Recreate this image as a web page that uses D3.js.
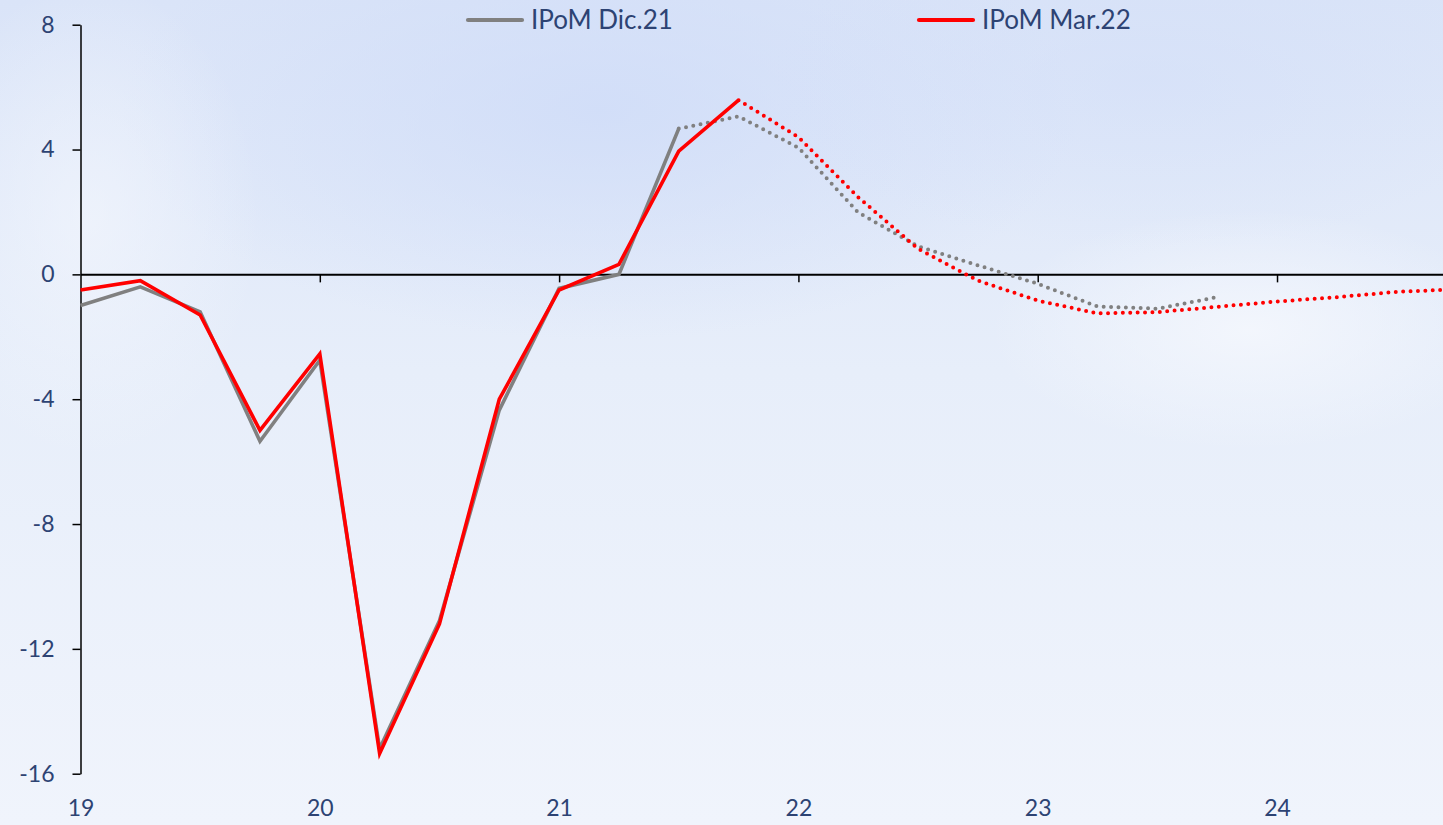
<!DOCTYPE html>
<html>
<head>
<meta charset="utf-8">
<script src="https://cdn.jsdelivr.net/npm/d3@7"></script>
<style>
  body { margin: 0; padding: 0; overflow: hidden; }
  svg { display: block; }
  text { font-family: Lato, "Open Sans", sans-serif; fill: #2d4373; }
</style>
</head>
<body>
<div id="chart"></div>
<script>
// quarters (year fraction), 2019Q1 .. 2024Q4
var quarters = [19, 19.25, 19.5, 19.75, 20, 20.25, 20.5, 20.75, 21, 21.25, 21.5, 21.75,
                22, 22.25, 22.5, 22.75, 23, 23.25, 23.5, 23.75, 24, 24.25, 24.5, 24.75]

// IPoM Dic.21 (gray), last observed point at 21.5
var dic21 = [-1.0, -0.4, -1.2, -5.35, -2.75, -15.2, -11.1, -4.35, -0.45, 0.0, 4.67, 5.06,
             4.06, 1.98, 0.9, 0.29, -0.3, -1.03, -1.1, -0.73, null, null, null, null]
var dic21LastObs = 21.5

// IPoM Mar.22 (red), last observed point at 21.75
var mar22 = [-0.5, -0.2, -1.3, -5.0, -2.55, -15.35, -11.2, -4.0, -0.5, 0.32, 3.95, 5.58,
             4.4, 2.47, 0.82, -0.2, -0.84, -1.25, -1.21, -1.04, -0.87, -0.73, -0.56, -0.48]
var mar22LastObs = 21.75

var yTicks = [-16, -12, -8, -4, 0, 4, 8]
var xTicks = [19, 20, 21, 22, 23, 24]
var seriesNames = ["IPoM Dic.21", "IPoM Mar.22"]
var seriesColors = ["#808080", "#ff0000"]

//---------------------------------------------------
// init parameters
//---------------------------------------------------
var width = 1443,
    height = 825
var lineWidth = 3.6

var svg = d3.select("#chart")
    .append("svg")
    .attr("width", width)
    .attr("height", height)

//---------------------------------------------------
// background (light sky)
//---------------------------------------------------
var defs = svg.append("defs")
var bg = defs.append("linearGradient").attr("id", "bg")
    .attr("x1", 0).attr("y1", 0).attr("x2", 0).attr("y2", 1)
bg.append("stop").attr("offset", "0%").attr("stop-color", "#dae4f8")
bg.append("stop").attr("offset", "45%").attr("stop-color", "#e7eefa")
bg.append("stop").attr("offset", "100%").attr("stop-color", "#f0f4fc")

var blob = defs.append("radialGradient").attr("id", "blob")
blob.append("stop").attr("offset", "0%").attr("stop-color", "#cfdcf8").attr("stop-opacity", 0.8)
blob.append("stop").attr("offset", "100%").attr("stop-color", "#cfdcf8").attr("stop-opacity", 0)

var cloud = defs.append("radialGradient").attr("id", "cloud")
cloud.append("stop").attr("offset", "0%").attr("stop-color", "#f4f7fd").attr("stop-opacity", 0.9)
cloud.append("stop").attr("offset", "100%").attr("stop-color", "#f4f7fd").attr("stop-opacity", 0)

svg.append("rect").attr("width", width).attr("height", height).attr("fill", "url(#bg)")
svg.append("ellipse").attr("cx", 600).attr("cy", 110).attr("rx", 480).attr("ry", 230)
    .attr("fill", "url(#blob)")
svg.append("ellipse").attr("cx", 1150).attr("cy", 80).attr("rx", 380).attr("ry", 170)
    .attr("fill", "url(#blob)").attr("opacity", 0.5)
svg.append("ellipse").attr("cx", 1250).attr("cy", 330).attr("rx", 260).attr("ry", 120)
    .attr("fill", "url(#cloud)")
svg.append("ellipse").attr("cx", 90).attr("cy", 220).attr("rx", 170).attr("ry", 240)
    .attr("fill", "url(#cloud)").attr("opacity", 0.7)

//---------------------------------------------------
// scales
//---------------------------------------------------
var x = d3.scaleLinear().domain([19, 24.75]).range([80.5, 1456.5])
var y = d3.scaleLinear().domain([-16, 8]).range([773.7, 24.7])

//---------------------------------------------------
// axes
//---------------------------------------------------
var yAxis = svg.append("g")
    .attr("transform", "translate(" + x(19) + ",0)")
    .call(d3.axisLeft(y).tickValues(yTicks).tickSize(8).tickSizeOuter(0).tickPadding(18)
        .tickFormat(function (d) { return String(d) }))
yAxis.select(".domain").attr("stroke", "#000").attr("stroke-width", 1.5)
yAxis.selectAll(".tick line").attr("stroke", "#000").attr("stroke-width", 1.5)
yAxis.selectAll(".tick text")
    .style("font-family", "Lato, 'Open Sans', sans-serif")
    .style("font-size", "23px")
    .attr("fill", "#2d4373")

var xAxis = svg.append("g")
    .attr("transform", "translate(0," + y(0) + ")")
    .call(d3.axisBottom(x).tickValues(xTicks.slice(1)).tickSize(8).tickSizeOuter(0).tickFormat(""))
xAxis.select(".domain").attr("stroke", "#000").attr("stroke-width", 2)
xAxis.selectAll(".tick line").attr("stroke", "#000").attr("stroke-width", 1.5)

var xLabels = svg.append("g")
    .attr("transform", "translate(0,800)")
    .call(d3.axisBottom(x).tickValues(xTicks).tickSize(0).tickPadding(0)
        .tickFormat(d3.format("d")))
xLabels.select(".domain").remove()
xLabels.selectAll(".tick text")
    .style("font-family", "Lato, 'Open Sans', sans-serif")
    .style("font-size", "23px")
    .attr("fill", "#2d4373")

//---------------------------------------------------
// lines: solid for observed, dotted for projection
//---------------------------------------------------
function drawSeries(values, lastObs, color) {
    var pts = quarters.map(function (q, i) { return { q: q, v: values[i] } })
        .filter(function (d) { return d.v !== null })
    var obs = pts.filter(function (d) { return d.q <= lastObs })
    var proj = pts.filter(function (d) { return d.q >= lastObs })
    var line = d3.line().x(function (d) { return x(d.q) }).y(function (d) { return y(d.v) })

    svg.append("path").datum(proj)
        .attr("d", line)
        .attr("fill", "none")
        .attr("stroke", color)
        .attr("stroke-width", 4)
        .attr("stroke-linecap", "round")
        .attr("stroke-dasharray", "0,7.4")

    svg.append("path").datum(obs)
        .attr("d", line)
        .attr("fill", "none")
        .attr("stroke", color)
        .attr("stroke-width", lineWidth)
        .attr("stroke-linejoin", "miter")
}

drawSeries(dic21, dic21LastObs, seriesColors[0])
drawSeries(mar22, mar22LastObs, seriesColors[1])

//---------------------------------------------------
// legend
//---------------------------------------------------
var legendX = [468, 919]
var legend = svg.selectAll(".legend")
    .data(seriesNames)
    .enter()
    .append("g")
    .attr("class", "legend")
    .attr("transform", function (d, i) { return "translate(" + legendX[i] + ",20)" })

legend.append("line")
    .attr("x1", 0).attr("x2", 54).attr("y1", 0).attr("y2", 0)
    .attr("stroke", function (d, i) { return seriesColors[i] })
    .attr("stroke-width", lineWidth + 0.6)
    .attr("stroke-linecap", "round")

legend.append("text")
    .attr("x", 63).attr("y", 0)
    .attr("dy", "0.35em")
    .style("font-size", "26px")
    .text(function (d) { return d })
</script>
</body>
</html>
